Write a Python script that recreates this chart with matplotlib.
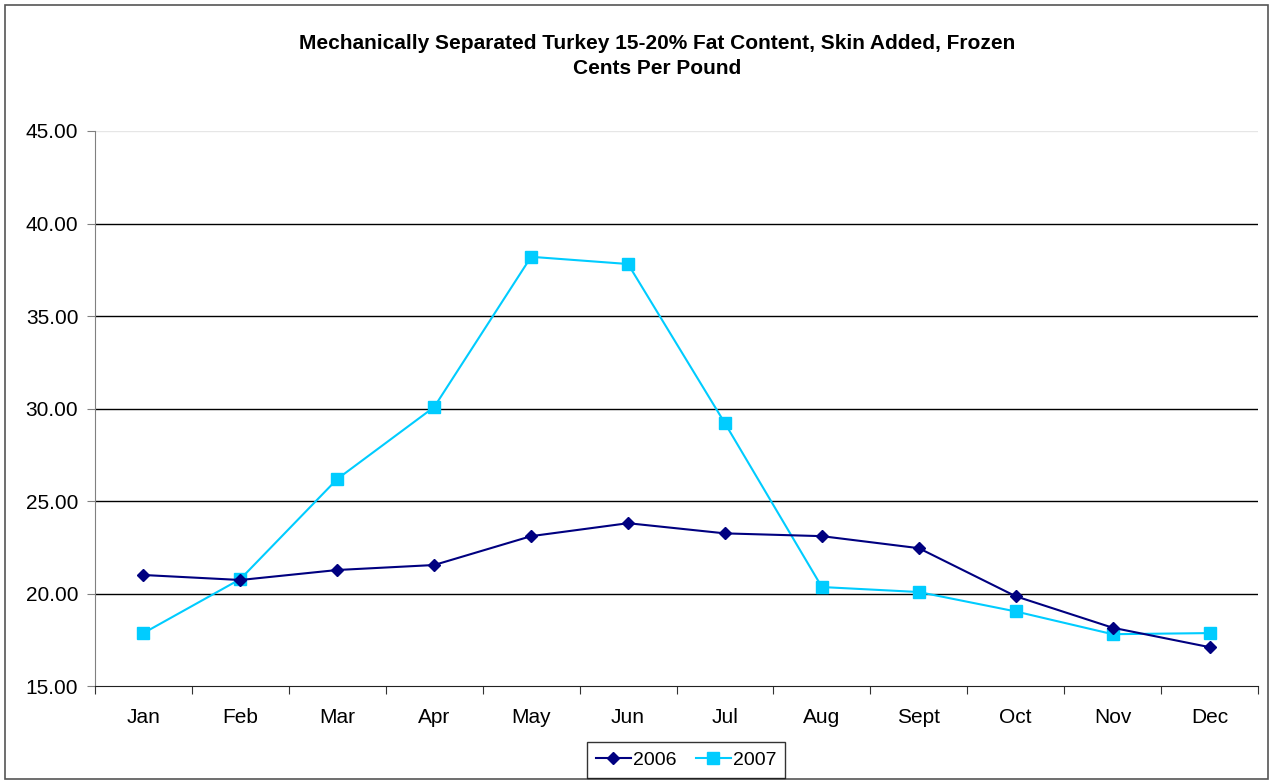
import matplotlib
matplotlib.use("Agg")
import matplotlib.pyplot as plt
from matplotlib.patches import Rectangle
import numpy as np

plt.rcParams['font.family'] = ['Liberation Sans', 'DejaVu Sans']

months = ["Jan", "Feb", "Mar", "Apr", "May", "Jun", "Jul", "Aug", "Sept", "Oct", "Nov", "Dec"]
price_2006 = [21.00, 20.73, 21.27, 21.54, 23.10, 23.80, 23.25, 23.10, 22.45, 19.85, 18.15, 17.10]
price_2007 = [17.86, 20.78, 26.19, 30.08, 38.20, 37.81, 29.20, 20.35, 20.08, 19.03, 17.80, 17.86]
y_ticks = [15, 20, 25, 30, 35, 40, 45]

fig = plt.figure(figsize=(12.73, 7.81), dpi=100)
ax = fig.add_axes([95/1273, 95/781, (1258-95)/1273, (686-131)/781])

x = np.arange(len(months)) + 0.5
ax.plot(x, price_2006, color="#000080", lw=1.5, marker="D", ms=6, label="2006", zorder=4)
ax.plot(x, price_2007, color="#00CCFF", lw=1.5, marker="s", ms=8, label="2007", zorder=3)

ax.set_xlim(0, 12)
ax.set_ylim(15, 45)
ax.set_yticks(y_ticks)
ax.set_yticklabels([f"{v:.2f}" for v in y_ticks], fontsize=15)
for v in y_ticks[1:-1]:
    ax.axhline(v, color="black", lw=1, zorder=1)
ax.axhline(45, color="#e6e6e6", lw=1, zorder=1)

ax.set_xticks(np.arange(0, 13), minor=False)
ax.set_xticklabels([])
ax.set_xticks(x, minor=True)
ax.set_xticklabels(months, minor=True, fontsize=15)
ax.tick_params(axis="x", which="major", direction="out", length=6, color="#333333")
ax.tick_params(axis="x", which="minor", length=0, pad=16)
ax.tick_params(axis="y", direction="out", length=6, color="#808080", pad=6)

for s in ("top", "right"):
    ax.spines[s].set_visible(False)
ax.spines["left"].set_color("#808080")
ax.spines["bottom"].set_color("#222222")

fig.text(657/1273, 1 - 56/781, "Mechanically Separated Turkey 15-20% Fat Content, Skin Added, Frozen\nCents Per Pound",
         ha="center", va="center", fontsize=15, fontweight="bold", linespacing=1.35)

leg = fig.legend(loc="center", bbox_to_anchor=(686/1273, 1 - 760/781), ncol=2, fontsize=14,
                 frameon=True, fancybox=False, edgecolor="black", handlelength=1.8,
                 handletextpad=0.1, columnspacing=1.0, borderpad=0.45)
leg.get_frame().set_linewidth(1)

fig.patches.append(Rectangle((5/1273, 2/781), 1263/1273, 774/781, transform=fig.transFigure,
                             fill=False, edgecolor="#555555", lw=1.2))

fig.savefig("out.png", dpi=100)
